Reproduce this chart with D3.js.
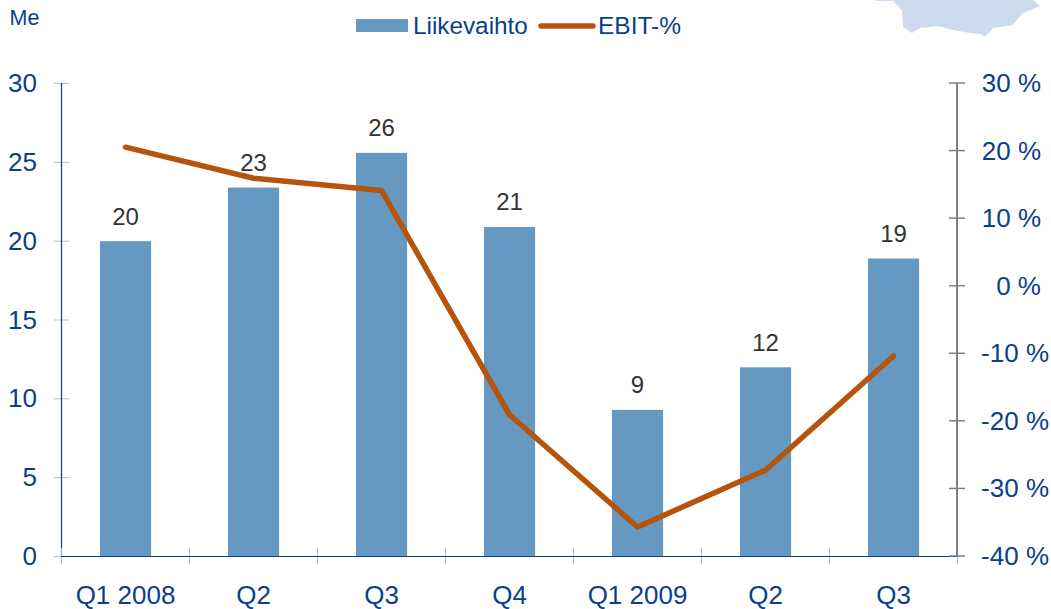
<!DOCTYPE html>
<html><head><meta charset="utf-8">
<script src="https://cdn.jsdelivr.net/npm/d3@7"></script>
<style>html,body{margin:0;padding:0;background:#fff}svg{display:block}text{font-family:"Liberation Sans",Arial,sans-serif}</style>
</head><body><svg id="c" width="1051" height="609"></svg>
<script>
const categories=["Q1 2008","Q2","Q3","Q4","Q1 2009","Q2","Q3"];
const revenue=[20,23.4,25.6,20.9,9.3,12,18.9];
const revenueLabels=["20","23","26","21","9","12","19"];
const ebit=[20.5,15.9,14.1,-19.1,-35.7,-27.3,-10.4];
const leftTicks=[0,5,10,15,20,25,30];
const rightTicks=[-40,-30,-20,-10,0,10,20,30];
const mapOutline=[[873,0],[880,1],[893,1],[902,10],[903,27],[912,33],[920,28],[938,26],[953,30],[970,33],[980,34],[985,37],[993,28],[1013,25],[1017,20],[1023,13],[1033,9],[1040,6],[1033,0]];
const blue="#0a3f8c",barC="#6699c2",lineC="#b5540c",grey="#808080",pale="#a9bfdc";
const svg=d3.select("#c");
const L=61,R=957,T=83,B=556;
const x=d3.scaleBand().domain(d3.range(categories.length)).range([L+0.5,R+0.5]).paddingInner(0.6).paddingOuter(0.3);
const yL=d3.scaleLinear().domain([0,30]).range([B,T]);
const yR=d3.scaleLinear().domain([-40,30]).range([B,T]);
const step=x.step();
svg.append("path").attr("d",d3.line()(mapOutline)+"Z").attr("fill","#ccdcee");
svg.selectAll("rect.bar").data(revenue).join("rect").attr("class","bar")
 .attr("x",(d,i)=>x(i)).attr("width",x.bandwidth()).attr("y",d=>yL(d)+0.5).attr("height",d=>B-yL(d)).attr("fill",barC);
svg.selectAll("text.val").data(revenue).join("text").attr("class","val")
 .attr("x",(d,i)=>x(i)+x.bandwidth()/2).attr("y",d=>yL(d)-16).attr("text-anchor","middle")
 .attr("font-size",24).attr("fill","#333").text((d,i)=>revenueLabels[i]);
svg.selectAll("line.lt").data(leftTicks).join("line").attr("class","lt")
 .attr("x1",L-7).attr("x2",L+8).attr("y1",d=>yL(d)+0.5).attr("y2",d=>yL(d)+0.5).attr("stroke",pale);
svg.append("line").attr("x1",L+0.5).attr("x2",L+0.5).attr("y1",T).attr("y2",B).attr("stroke",blue).attr("stroke-width",1.2);
svg.selectAll("text.lt").data(leftTicks).join("text").attr("class","lt")
 .attr("x",37).attr("y",d=>yL(d)+9).attr("text-anchor","end").attr("font-size",26).attr("fill",blue).text(d=>d);
svg.selectAll("line.xt").data(d3.range(categories.length+1)).join("line").attr("class","xt")
 .attr("x1",i=>L+0.5+i*step).attr("x2",i=>L+0.5+i*step).attr("y1",B-8).attr("y2",B+8).attr("stroke",pale);
svg.append("line").attr("x1",L).attr("x2",R).attr("y1",B+0.5).attr("y2",B+0.5).attr("stroke",blue).attr("stroke-width",1.2);
svg.selectAll("text.xl").data(categories).join("text").attr("class","xl")
 .attr("x",(d,i)=>x(i)+x.bandwidth()/2).attr("y",603.5).attr("text-anchor","middle").attr("font-size",26).attr("fill",blue).text(d=>d);
svg.append("line").attr("x1",R).attr("x2",R).attr("y1",T).attr("y2",B).attr("stroke",grey).attr("stroke-width",2);
svg.selectAll("line.rt").data(rightTicks).join("line").attr("class","rt")
 .attr("x1",R-8).attr("x2",R+8).attr("y1",d=>yR(d)).attr("y2",d=>yR(d)).attr("stroke",grey).attr("stroke-width",1.5);
svg.selectAll("text.rt").data(rightTicks).join("text").attr("class","rt")
 .attr("x",d=>d<0?1049:1041).attr("y",d=>yR(d)+9).attr("text-anchor","end").attr("font-size",26).attr("fill",blue).text(d=>d+" %");
svg.append("path").datum(ebit).attr("fill","none").attr("stroke",lineC).attr("stroke-width",5.5).attr("stroke-linecap","round").attr("stroke-linejoin","round")
 .attr("d",d3.line().x((d,i)=>x(i)+x.bandwidth()/2).y(d=>yR(d)));
svg.append("rect").attr("x",356).attr("y",19).attr("width",52).attr("height",13).attr("fill",barC);
svg.append("text").attr("x",413).attr("y",34).attr("font-size",24.3).attr("fill",blue).text("Liikevaihto");
svg.append("line").attr("x1",541).attr("x2",593).attr("y1",26).attr("y2",26).attr("stroke",lineC).attr("stroke-width",5.5).attr("stroke-linecap","round");
svg.append("text").attr("x",598).attr("y",34).attr("font-size",24.5).attr("fill",blue).text("EBIT-%");
svg.append("text").attr("x",9.5).attr("y",24.5).attr("font-size",21.5).attr("fill",blue).text("Me");
</script></body></html>
